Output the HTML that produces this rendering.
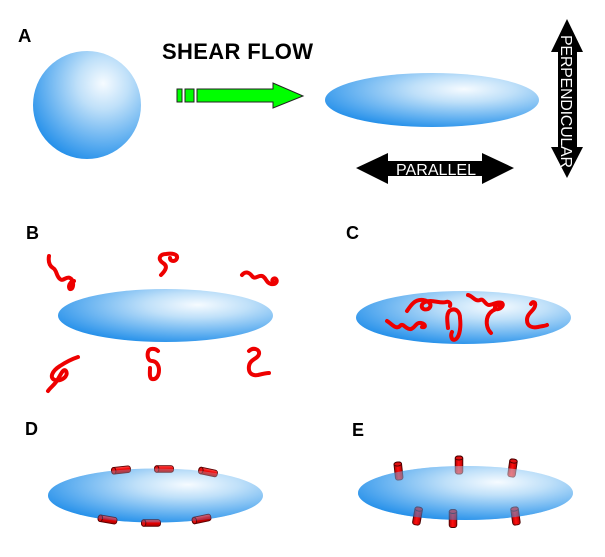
<!DOCTYPE html>
<html><head><meta charset="utf-8"><style>
html,body{margin:0;padding:0;background:#fff;}
svg{display:block;font-family:"Liberation Sans",Arial,sans-serif;}
</style></head><body>
<svg width="605" height="557" viewBox="0 0 605 557" xmlns="http://www.w3.org/2000/svg">
<defs>
<radialGradient id="bl" cx="0.65" cy="0.3" r="0.8" fx="0.65" fy="0.3">
<stop offset="0" stop-color="#f6fbff"/>
<stop offset="0.3" stop-color="#bfe0f9"/>
<stop offset="0.7" stop-color="#5eaef0"/>
<stop offset="1" stop-color="#1688e8"/>
</radialGradient>
<linearGradient id="ch" x1="0" y1="0" x2="0" y2="1">
<stop offset="0" stop-color="#ff5050"/>
<stop offset="0.45" stop-color="#f00000"/>
<stop offset="1" stop-color="#a00000"/>
</linearGradient>
<linearGradient id="cv" x1="0" y1="0" x2="1" y2="0">
<stop offset="0" stop-color="#b00000"/>
<stop offset="0.45" stop-color="#ff1010"/>
<stop offset="1" stop-color="#c00000"/>
</linearGradient>
</defs>

<!-- A -->
<text x="18" y="42" font-size="18.5" font-weight="bold">A</text>
<circle cx="87" cy="105" r="54" fill="url(#bl)"/>
<text x="162" y="59" font-size="22" font-weight="bold" textLength="151">SHEAR FLOW</text>
<g fill="#00ff00" stroke="#222" stroke-width="1">
<rect x="177" y="89" width="5" height="13"/>
<rect x="185" y="89" width="9" height="13"/>
<polygon points="197,89 273,89 273,83 303,96 273,108 273,102 197,102"/>
</g>
<ellipse cx="432" cy="100" rx="107" ry="27" fill="url(#bl)"/>
<polygon points="356,168 388,153 388,161 482,161 482,153 514,168 482,184 482,176 388,176 388,184" fill="#000"/>
<text x="396" y="175" font-size="16" fill="#fff" textLength="80">PARALLEL</text>
<polygon points="567,19 583,52 577,52 577,147 583,147 567,178 551,147 558,147 558,52 551,52" fill="#000"/>
<text transform="translate(561,35) rotate(90)" x="0" y="0" font-size="16" fill="#fff" textLength="133">PERPENDICULAR</text>

<!-- B -->
<text x="26" y="239" font-size="18" font-weight="bold">B</text>
<ellipse cx="165.5" cy="315.5" rx="107.5" ry="26.5" fill="url(#bl)"/>
<g fill="none" stroke="#ee0000" stroke-width="4" stroke-linecap="round" stroke-linejoin="round">
<path d="M49,256 C48,262 50,266 53,268 C57,270 56,276 60,279 C63,282 66,276 70,278 C74,280 74,288 71,289 C68,290 68,282 74,281"/>
<path d="M161,275 C166,270 168,266 163,263 C157,259 160,254 166,254 C172,253 178,254 177,258 C176,262 170,262 170,258"/>
<path d="M242,275 C245,271 249,272 252,276 C255,280 258,275 262,276 C266,277 266,283 271,284 C276,285 278,281 276,279 C274,277 271,280 273,282"/>
<path d="M78,357 C72,359 66,362 60,366 C52,371 49,378 55,380 C61,382 69,376 66,371 C63,367 60,377 56,382 C53,386 50,388 48,391"/>
<path d="M158,351 C155,348 149,348 148,352 C147,356 148,361 152,361 C156,361 159,365 159,370 C159,376 156,380 152,379 C149,378 150,372 150,368"/>
<path d="M249,351 C253,347 260,349 259,354 C258,359 250,359 249,366 C248,373 252,376 258,375 C262,374 266,373 269,373"/>
</g>

<!-- C -->
<text x="346" y="239" font-size="18" font-weight="bold">C</text>
<ellipse cx="463.5" cy="317.5" rx="107.5" ry="26.5" fill="url(#bl)"/>
<g fill="none" stroke="#ee0000" stroke-width="4" stroke-linecap="round" stroke-linejoin="round">
<path d="M387,321 C392,324 396,330 400,326 C403,322 406,330 411,329 C415,328 416,322 421,323 C426,324 426,328 422,327"/>
<path d="M407,311 C411,305 415,299 423,300 C430,301 433,306 428,309 C422,311 419,305 425,302 C432,299 440,304 446,302 C449,301 451,303 450,306"/>
<path d="M448,328 C447,320 446,312 451,310 C456,308 460,312 460,318 C461,326 460,336 456,339 C452,342 450,336 452,332"/>
<path d="M468,295 C473,296 475,302 480,300 C484,298 485,305 489,305 C493,305 497,301 502,303 C505,306 499,310 496,309 C493,307 497,303 500,306"/>
<path d="M496,309 C491,311 488,314 487,319 C486,325 488,330 491,333"/>
<path d="M531,304 C533,301 536,302 535,306 C534,311 527,313 527,320 C527,327 533,328 538,327 C542,326 545,326 547,325"/>
</g>

<!-- D -->
<text x="25" y="435" font-size="18" font-weight="bold">D</text>
<ellipse cx="155.5" cy="495.5" rx="107.5" ry="27" fill="url(#bl)"/>
<g stroke="#5a0000" stroke-width="0.9">
<g transform="translate(121,470) rotate(-6)"><rect x="-9.5" y="-3.3" width="19" height="6.6" rx="2.5" fill="url(#ch)"/><ellipse cx="-7.3" cy="0" rx="2.2" ry="3.3" fill="#e01010"/></g>
<g transform="translate(164,469)"><rect x="-9.5" y="-3.3" width="19" height="6.6" rx="2.5" fill="url(#ch)"/><ellipse cx="-7.3" cy="0" rx="2.2" ry="3.3" fill="#e01010"/></g>
<g transform="translate(208,472) rotate(12)"><rect x="-9.5" y="-3.3" width="19" height="6.6" rx="2.5" fill="url(#ch)"/><ellipse cx="-7.3" cy="0" rx="2.2" ry="3.3" fill="#e01010"/></g>
<g transform="translate(107.5,519.5) rotate(10)"><rect x="-9.5" y="-3.3" width="19" height="6.6" rx="2.5" fill="url(#ch)"/><ellipse cx="-7.3" cy="0" rx="2.2" ry="3.3" fill="#e01010"/></g>
<g transform="translate(151,523)"><rect x="-9.5" y="-3.3" width="19" height="6.6" rx="2.5" fill="url(#ch)"/><ellipse cx="-7.3" cy="0" rx="2.2" ry="3.3" fill="#e01010"/></g>
<g transform="translate(201.5,519) rotate(-12)"><rect x="-9.5" y="-3.3" width="19" height="6.6" rx="2.5" fill="url(#ch)"/><ellipse cx="-7.3" cy="0" rx="2.2" ry="3.3" fill="#e01010"/></g>
</g>
<ellipse cx="155.5" cy="495.5" rx="107.5" ry="27" fill="url(#bl)" opacity="0.3"/>

<!-- E -->
<text x="352" y="436" font-size="18" font-weight="bold">E</text>
<ellipse cx="465.5" cy="493" rx="107.5" ry="27" fill="url(#bl)"/>
<g stroke="#4a0000" stroke-width="0.9">
<g transform="translate(398.5,471) rotate(-6)"><rect x="-3.8" y="-9" width="7.6" height="18" rx="2.5" fill="url(#cv)"/><ellipse cx="0" cy="-7" rx="3.8" ry="2" fill="#e01010"/></g>
<g transform="translate(459,465)"><rect x="-3.8" y="-9" width="7.6" height="18" rx="2.5" fill="url(#cv)"/><ellipse cx="0" cy="-7" rx="3.8" ry="2" fill="#e01010"/></g>
<g transform="translate(512.5,468) rotate(8)"><rect x="-3.8" y="-9" width="7.6" height="18" rx="2.5" fill="url(#cv)"/><ellipse cx="0" cy="-7" rx="3.8" ry="2" fill="#e01010"/></g>
<g transform="translate(417.5,516) rotate(10)"><rect x="-3.8" y="-9" width="7.6" height="18" rx="2.5" fill="url(#cv)"/><ellipse cx="0" cy="-7" rx="3.8" ry="2" fill="#e01010"/></g>
<g transform="translate(453,518.5)"><rect x="-3.8" y="-9" width="7.6" height="18" rx="2.5" fill="url(#cv)"/><ellipse cx="0" cy="-7" rx="3.8" ry="2" fill="#e01010"/></g>
<g transform="translate(515.5,516) rotate(-8)"><rect x="-3.8" y="-9" width="7.6" height="18" rx="2.5" fill="url(#cv)"/><ellipse cx="0" cy="-7" rx="3.8" ry="2" fill="#e01010"/></g>
</g>
<ellipse cx="465.5" cy="493" rx="107.5" ry="27" fill="url(#bl)" opacity="0.5"/>
</svg>
</body></html>
